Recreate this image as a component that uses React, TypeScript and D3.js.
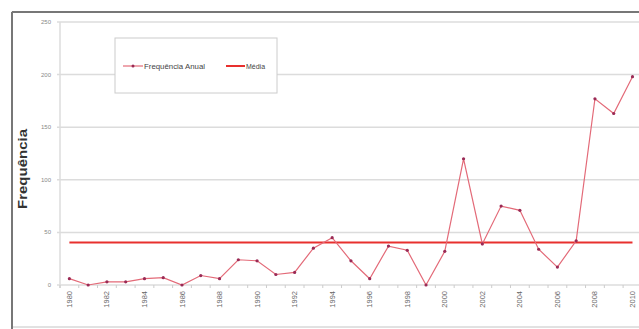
import React from "react";
import * as d3 from "d3";

const years: number[] = d3.range(1980, 2011);
const frequencies: number[] = [6, 0, 3, 3, 6, 7, 0, 9, 6, 24, 23, 10, 12, 35, 45, 23, 6, 37, 33, 0, 32, 120, 39, 75, 71, 34, 17, 42, 177, 163, 198];
const yTicks: number[] = [0, 50, 100, 150, 200, 250];
const seriesNames: string[] = ["Frequência Anual", "Média"];
const yTitle = "Frequência";

export default function App() {
  const W = 639, H = 329;
  const left = 60, top = 22, bottom = 285;
  const step = 18.77;
  const right = left + step * years.length;
  const x = d3.scaleBand<number>().domain(years).range([left, right]);
  const y = d3.scaleLinear().domain([0, 250]).range([bottom, top]);
  const mean = d3.mean(frequencies) as number;
  const cx = (yr: number) => (x(yr) as number) + x.bandwidth() / 2;
  const line = d3.line<number>().x((_, i) => cx(years[i])).y((d) => y(d));
  const font = "'Liberation Sans', Arial, sans-serif";

  return (
    <svg width={W} height={H} style={{ position: "absolute", left: 0, top: 0 }}>
      <rect x={0} y={0} width={W} height={H} fill="#fff" />
      {/* frame */}
      <rect x={12} y={12} width={W} height={315} fill="none" stroke="#c4c4c4" strokeWidth={1} />
      <line x1={12} x2={W} y1={12} y2={12} stroke="#777" strokeWidth={2} />
      <line x1={12} x2={12} y1={12} y2={H} stroke="#777" strokeWidth={2} />
      {/* grid */}
      {yTicks.map((t) => (
        <g key={t}>
          <line x1={left - 3} x2={W} y1={y(t)} y2={y(t)} stroke="#dcdcdc" strokeWidth={1.5} />
          <text x={left - 9} y={y(t) + 2} fontSize={6} fill="#888" textAnchor="end" fontFamily={font}>{t}</text>
        </g>
      ))}
      <line x1={left} x2={left} y1={top} y2={bottom + 3} stroke="#dcdcdc" strokeWidth={1.5} />
      {/* x ticks */}
      {years.concat([2011]).map((yr, i) => {
        const xx = left + i * step;
        return <line key={yr} x1={xx} x2={xx} y1={bottom} y2={bottom + 3} stroke="#ccc" strokeWidth={1} />;
      })}
      {years.filter((yr) => yr % 2 === 0).map((yr) => (
        <text key={yr} transform={`translate(${cx(yr) + 2.5},${bottom + 6}) rotate(-90)`} fontSize={7.5} fill="#666" textAnchor="end" fontFamily={font}>{yr}</text>
      ))}
      {/* y title */}
      <text transform={`translate(27,169) rotate(-90)`} fontSize={12} fontWeight="bold" fill="#333" textAnchor="middle" fontFamily={font} textLength={80} lengthAdjust="spacingAndGlyphs">{yTitle}</text>
      {/* mean */}
      <line x1={cx(years[0])} x2={cx(years[years.length - 1])} y1={y(mean)} y2={y(mean)} stroke="#e8302e" strokeWidth={2} />
      {/* series */}
      <path d={line(frequencies) as string} fill="none" stroke="#e36a78" strokeWidth={1.2} />
      {frequencies.map((v, i) => (
        <circle key={i} cx={cx(years[i])} cy={y(v)} r={1.6} fill="#9a2a55" />
      ))}
      {/* legend */}
      <rect x={115} y={38} width={162} height={55} fill="#fff" stroke="#ccc" strokeWidth={1} />
      <line x1={123} x2={143} y1={66} y2={66} stroke="#e36a78" strokeWidth={1.2} />
      <circle cx={133} cy={66} r={1.5} fill="#9a2a55" />
      <text x={144} y={68.5} fontSize={7} fill="#444" fontFamily={font} textLength={61} lengthAdjust="spacingAndGlyphs">{seriesNames[0]}</text>
      <line x1={226} x2={245} y1={66} y2={66} stroke="#e8302e" strokeWidth={2} />
      <text x={246} y={68.5} fontSize={7} fill="#444" fontFamily={font}>{seriesNames[1]}</text>
    </svg>
  );
}
